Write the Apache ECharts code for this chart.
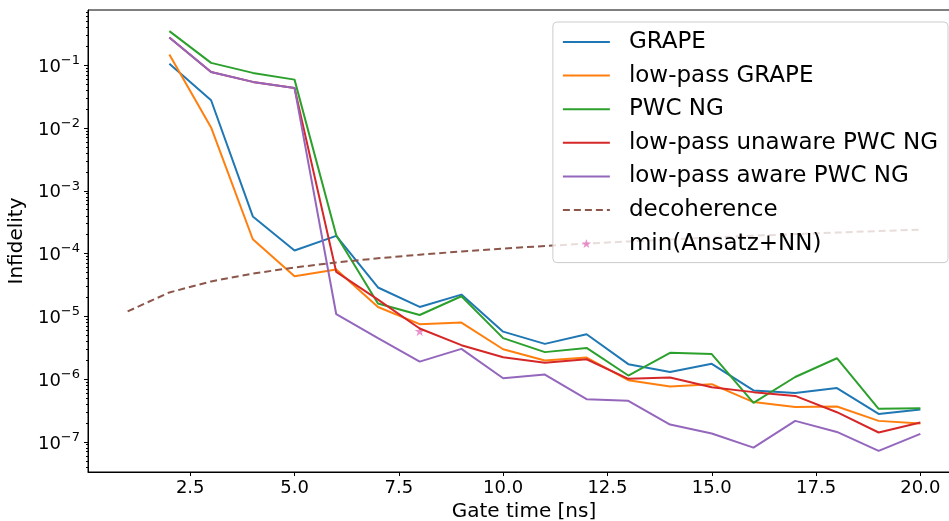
<!DOCTYPE html>
<html>
<head>
<meta charset="utf-8">
<script src="https://cdn.jsdelivr.net/npm/echarts@6/dist/echarts.min.js"></script>
<style>
  html, body { margin: 0; padding: 0; background: #fff; }
  #chart { width: 949px; height: 521px; }
</style>
</head>
<body>
<div id="chart"></div>
<script>
// gate times in ns
const gateTimes = [2, 3, 4, 5, 6, 7, 8, 9, 10, 11, 12, 13, 14, 15, 16, 17, 18, 19, 20];

const grape = [0.106, 0.0277, 3.9e-4, 1.12e-4, 1.91e-4, 2.88e-5, 1.41e-5, 2.22e-5, 5.7e-6, 3.64e-6,
  5.19e-6, 1.73e-6, 1.30e-6, 1.75e-6, 6.6e-7, 6.0e-7, 7.2e-7, 2.79e-7, 3.28e-7];
const lowPassGrape = [0.148, 0.0102, 1.69e-4, 4.35e-5, 5.57e-5, 1.41e-5, 7.5e-6, 7.96e-6, 2.99e-6, 1.98e-6,
  2.2e-6, 9.6e-7, 7.6e-7, 8.3e-7, 4.3e-7, 3.6e-7, 3.66e-7, 2.16e-7, 1.96e-7];
const pwcNg = [0.35, 0.109, 0.0755, 0.059, 1.95e-4, 1.6e-5, 1.05e-5, 2.09e-5, 4.5e-6, 2.69e-6,
  3.14e-6, 1.14e-6, 2.62e-6, 2.5e-6, 4.18e-7, 1.08e-6, 2.15e-6, 3.36e-7, 3.44e-7];
const lowPassUnaware = [0.276, 0.078, 0.0543, 0.0435, 5.1e-5, 1.85e-5, 6.4e-6, 3.47e-6, 2.23e-6, 1.82e-6,
  2.07e-6, 1.01e-6, 1.06e-6, 7.4e-7, 6.2e-7, 5.4e-7, 2.97e-7, 1.41e-7, 2.04e-7];
const lowPassAware = [0.276, 0.078, 0.0543, 0.0435, 1.08e-5, 4.5e-6, 1.9e-6, 3.03e-6, 1.03e-6, 1.18e-6,
  4.79e-7, 4.5e-7, 1.89e-7, 1.36e-7, 8.1e-8, 2.16e-7, 1.44e-7, 7.2e-8, 1.34e-7];

const decoTimes = [1, 2, 3, 4, 5, 6, 7, 8, 9, 10, 11, 12, 13, 14, 15, 16, 17, 18, 19, 20];
const decoherence = [1.2e-5, 2.4e-5, 3.6e-5, 4.8e-5, 6.0e-5, 7.2e-5, 8.4e-5, 9.6e-5, 1.08e-4, 1.2e-4,
  1.32e-4, 1.44e-4, 1.56e-4, 1.68e-4, 1.8e-4, 1.92e-4, 2.04e-4, 2.16e-4, 2.28e-4, 2.4e-4];

const ansatzNN = [[8, 5.8e-6]];

const xTicks = [2.5, 5.0, 7.5, 10.0, 12.5, 15.0, 17.5, 20.0];
const yTicks = [1e-7, 1e-6, 1e-5, 1e-4, 1e-3, 1e-2, 1e-1];
const yMinorTicks = [];
for (let e = -8; e <= -1; e++) {
  for (let m = 2; m <= 9; m++) yMinorTicks.push(m * Math.pow(10, e));
}

const FONT = "DejaVu Sans";
const STAR = "path://M50 0 L61.23 34.55 L97.55 34.55 L68.17 55.9 L79.39 90.45 L50 69.1 L20.61 90.45 L31.83 55.9 L2.45 34.55 L38.77 34.55 Z";
const yMin = Math.pow(10, -7.48);
const yMax = Math.pow(10, -0.12);

function pairs(xs, ys) {
  return xs.map((x, i) => [x, ys[i]]);
}

function lineSeries(name, values, color) {
  return {
    name: name,
    type: "line",
    data: pairs(gateTimes, values),
    symbol: "none",
    lineStyle: { color: color, width: 2 },
    itemStyle: { color: color },
  };
}

// line entries in the legend: just the line, no marker
const lineLegend = (name) => ({ name: name, itemStyle: { opacity: 0 } });

const chart = echarts.init(document.getElementById("chart"), null, { renderer: "canvas" });
chart.setOption({
  animation: false,
  grid: {
    left: 88, top: 10, right: -11, bottom: 49,
    outerBoundsMode: "none",
    show: true, borderColor: "#000", borderWidth: 1,
  },
  legend: {
    right: 1, top: 22,
    orient: "vertical",
    padding: [8, 10, 7, 9],
    itemWidth: 47, itemHeight: 9, itemGap: 9.6,
    backgroundColor: "rgba(255,255,255,0.8)",
    borderColor: "#cccccc", borderWidth: 1, borderRadius: 4,
    textStyle: { fontFamily: FONT, fontSize: 23, lineHeight: 24, color: "#000", padding: [0, 0, 0, 14] },
    data: [
      lineLegend("GRAPE"),
      lineLegend("low-pass GRAPE"),
      lineLegend("PWC NG"),
      lineLegend("low-pass unaware PWC NG"),
      lineLegend("low-pass aware PWC NG"),
      lineLegend("decoherence"),
      { name: "min(Ansatz+NN)" },
    ],
  },
  xAxis: {
    type: "value",
    min: 0.05, max: 20.95,
    name: "Gate time [ns]",
    nameLocation: "middle",
    nameGap: 29,
    nameTextStyle: { fontFamily: FONT, fontSize: 20, color: "#000" },
    axisLine: { lineStyle: { color: "#000", width: 1 } },
    axisTick: { customValues: xTicks, length: 4, lineStyle: { color: "#000" } },
    axisLabel: {
      customValues: xTicks, margin: 7,
      fontFamily: FONT, fontSize: 18, color: "#000",
      formatter: (v) => v.toFixed(1),
    },
    splitLine: { show: false },
  },
  yAxis: [
    {
      type: "log", logBase: 10,
      min: yMin, max: yMax,
      name: "Infidelity",
      nameLocation: "middle",
      nameGap: 50,
      nameTextStyle: { fontFamily: FONT, fontSize: 20, color: "#000" },
      axisLine: { show: true, lineStyle: { color: "#000", width: 1 } },
      axisTick: { customValues: yTicks, length: 4, lineStyle: { color: "#000" } },
      axisLabel: {
        customValues: yTicks, margin: 8,
        color: "#000",
        formatter: (v) => "{b|10}{s|\u2212" + Math.abs(Math.round(Math.log10(v))) + "}",
        rich: {
          b: { fontFamily: FONT, fontSize: 18, color: "#000", verticalAlign: "bottom" },
          s: { fontFamily: FONT, fontSize: 13, color: "#000", verticalAlign: "bottom", padding: [0, 0, 9, 0] },
        },
      },
      splitLine: { show: false },
    },
    {
      type: "log", logBase: 10,
      min: yMin, max: yMax,
      position: "left",
      axisLine: { show: false },
      axisTick: { customValues: yMinorTicks, length: 2, lineStyle: { color: "#000" } },
      axisLabel: { show: false },
      splitLine: { show: false },
    },
  ],
  series: [
    lineSeries("GRAPE", grape, "#1f77b4"),
    lineSeries("low-pass GRAPE", lowPassGrape, "#ff7f0e"),
    lineSeries("PWC NG", pwcNg, "#2ca02c"),
    lineSeries("low-pass unaware PWC NG", lowPassUnaware, "#d62728"),
    lineSeries("low-pass aware PWC NG", lowPassAware, "#9467bd"),
    {
      name: "decoherence",
      type: "line",
      data: pairs(decoTimes, decoherence),
      symbol: "none",
      lineStyle: { color: "#8c564b", width: 2, type: [7, 4] },
      itemStyle: { color: "#8c564b" },
    },
    {
      name: "min(Ansatz+NN)",
      type: "scatter",
      data: ansatzNN,
      symbol: STAR,
      symbolSize: 10,
      itemStyle: { color: "#e377c2" },
    },
  ],
});
</script>
</body>
</html>
